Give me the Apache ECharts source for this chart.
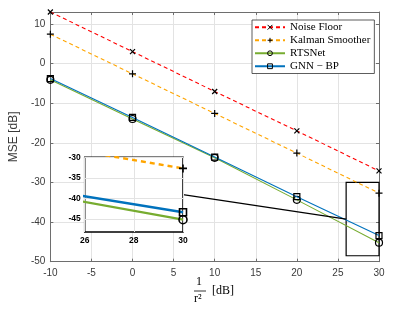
<!DOCTYPE html>
<html>
<head>
<meta charset="utf-8">
<script src="https://cdn.jsdelivr.net/npm/echarts@6/dist/echarts.min.js"></script>
<style>html,body{margin:0;padding:0;background:#fff}#c{width:416px;height:310px}</style>
</head>
<body>
<div id="c"></div>
<script>
// ---- data ----
var snr = [-10, 0, 10, 20, 30];
var noiseFloor = [13, 3, -7.05, -17, -27.1];
var kalman = [7.4, -2.6, -12.6, -22.6, -32.7];
var rtsnet = [-4.1, -14.0, -23.8, -34.4, -45.2];
var gnnbp = [-3.8, -13.6, -23.6, -33.6, -43.4];
var seriesNames = ['Noise Floor', 'Kalman Smoother', 'RTSNet', 'GNN \u2212 BP'];
var xTicks = [-10, -5, 0, 5, 10, 15, 20, 25, 30];
var yTicks = [-50, -40, -30, -20, -10, 0, 10];
var insetXTicks = [26, 28, 30];
var insetYTicks = [-45, -40, -35, -30];
var zoomX = [26, 30];
var zoomY = [-48.5, -30];
var insetY = [-48.2, -30];

function pairs(ys) { return snr.map(function (x, i) { return [x, ys[i]]; }); }

var colors = ['#ff0000', '#ffa500', '#77ac30', '#0072bd'];
var dashes = [[4, 3], [4, 3], 'solid', 'solid'];
var symbols = ['path://M0,0L10,10M10,0L0,10', 'path://M5,0L5,10M0,5L10,5', 'circle', 'rect'];
var symSizes = [5, 7, 7, 6];
var values = [noiseFloor, kalman, rtsnet, gnnbp];

var chart = echarts.init(document.getElementById('c'), null, { renderer: 'canvas' });
var series = [];
for (var i = 0; i < 4; i++) {
  series.push({
    name: seriesNames[i], type: 'line', xAxisIndex: 0, yAxisIndex: 0,
    data: pairs(values[i]), symbol: symbols[i], symbolSize: symSizes[i],
    showAllSymbol: true, clip: true, z: 2 + i * 0.1,
    lineStyle: { color: colors[i], width: 1.1, type: dashes[i] },
    itemStyle: { color: 'rgba(0,0,0,0)', borderColor: '#000', borderWidth: 1.2 },
    emphasis: { disabled: true }, animation: false
  });
}
series[3].markArea = {
  silent: true,
  itemStyle: { color: 'rgba(0,0,0,0)', borderColor: '#000', borderWidth: 1.2 },
  data: [[{ coord: [zoomX[0], zoomY[0]] }, { coord: [zoomX[1], zoomY[1]] }]]
};
for (var j = 0; j < 4; j++) {
  series.push({
    name: seriesNames[j], type: 'line', xAxisIndex: 1, yAxisIndex: 1,
    data: pairs(values[j]), symbol: symbols[j], symbolSize: symSizes[j] + 1,
    showAllSymbol: true, clip: true, z: 6 + j * 0.1,
    lineStyle: { color: colors[j], width: 2.4, type: j < 2 ? [5, 4] : 'solid' },
    itemStyle: { color: 'rgba(0,0,0,0)', borderColor: '#000', borderWidth: 1.6 },
    emphasis: { disabled: true }, animation: false
  });
}

var axisGray = '#6e6e6e';
var gridGray = '#e3e3e3';
var tickFont = { fontFamily: 'Liberation Sans', fontSize: 10, color: '#3a3a3a' };

var option = {
  animation: false,
  grid: [
    { left: 50, top: 12, right: 37, bottom: 48.3, show: false },
    { left: 84.7, top: 157.3, width: 98.3, height: 74.7, show: true, z: 4,
      backgroundColor: '#fff', borderColor: '#000', borderWidth: 1.5 }
  ],
  xAxis: [
    { type: 'value', gridIndex: 0, min: -10, max: 30, interval: 5, position: 'bottom',
      axisLine: { show: true, onZero: false, lineStyle: { color: axisGray, width: 1 } },
      axisTick: { show: true, inside: true, length: 3, lineStyle: { color: axisGray } },
      axisLabel: Object.assign({ margin: 7 }, tickFont),
      splitLine: { show: true, lineStyle: { color: gridGray, width: 1 } } },
    { type: 'value', gridIndex: 1, min: zoomX[0], max: zoomX[1], z: 5,
      axisLine: { show: false, onZero: false },
      axisTick: { show: false, customValues: insetXTicks },
      axisLabel: { customValues: insetXTicks, fontFamily: 'Liberation Sans', fontSize: 8.5, fontWeight: 'bold', color: '#000', margin: 4 },
      splitLine: { show: true, lineStyle: { color: gridGray, width: 1 } } },
    { type: 'value', gridIndex: 0, min: -10, max: 30, interval: 5, position: 'top',
      axisLine: { show: true, onZero: false, lineStyle: { color: axisGray, width: 1 } },
      axisTick: { show: true, inside: true, length: 3, lineStyle: { color: axisGray } },
      axisLabel: { show: false }, splitLine: { show: false } }
  ],
  yAxis: [
    { type: 'value', gridIndex: 0, min: -50, max: 13, interval: 10, position: 'left',
      name: 'MSE [dB]', nameLocation: 'middle', nameGap: 26,
      nameTextStyle: { fontFamily: 'Liberation Sans', fontSize: 12, color: '#3a3a3a' },
      axisLine: { show: true, onZero: false, lineStyle: { color: axisGray, width: 1 } },
      axisTick: { show: true, inside: true, length: 3, lineStyle: { color: axisGray } },
      axisLabel: Object.assign({ margin: 5, showMaxLabel: false }, tickFont),
      splitLine: { show: true, lineStyle: { color: gridGray, width: 1 } } },
    { type: 'value', gridIndex: 1, min: insetY[0], max: insetY[1], z: 5,
      axisLine: { show: false, onZero: false },
      axisTick: { show: false, customValues: insetYTicks },
      axisLabel: { customValues: insetYTicks, fontFamily: 'Liberation Sans', fontSize: 8.5, fontWeight: 'bold', color: '#000', margin: 4 },
      splitLine: { show: true, lineStyle: { color: gridGray, width: 1 } } },
    { type: 'value', gridIndex: 0, min: -50, max: 13, interval: 10, position: 'right',
      axisLine: { show: true, onZero: false, lineStyle: { color: axisGray, width: 1 } },
      axisTick: { show: true, inside: true, length: 3, lineStyle: { color: axisGray } },
      axisLabel: { show: false }, splitLine: { show: false } }
  ],
  legend: {
    data: seriesNames, orient: 'vertical', left: 252, top: 20,
    backgroundColor: '#fff', borderColor: '#333', borderWidth: 0.8,
    padding: [1, 4, 1, 2], itemGap: 0.5, itemWidth: 30, itemHeight: 6,
    itemStyle: { borderWidth: 1 },
    textStyle: { fontFamily: 'Liberation Serif', fontSize: 11, color: '#000', lineHeight: 12.5 },
    selectedMode: false
  },
  series: series,
  graphic: [
    { type: 'text', left: 196, top: 276, style: { text: '1', font: '12px "Liberation Serif"', fill: '#000' } },
    { type: 'line', shape: { x1: 194, y1: 291, x2: 206, y2: 291 }, style: { stroke: '#000', lineWidth: 0.8 } },
    { type: 'text', left: 194, top: 293, style: { text: 'r\u00b2', font: '12px "Liberation Serif"', fill: '#000' } },
    { type: 'text', left: 212, top: 285, style: { text: '[dB]', font: '12px "Liberation Serif"', fill: '#000' } }
  ]
};
chart.setOption(option);

// connector between inset and zoom box
var pA = chart.convertToPixel({ xAxisIndex: 1, yAxisIndex: 1 }, [zoomX[1], (insetY[0] + insetY[1]) / 2]);
var pB = chart.convertToPixel({ xAxisIndex: 0, yAxisIndex: 0 }, [zoomX[0], (zoomY[0] + zoomY[1]) / 2]);
option.graphic.push({ type: 'line', z: 3, shape: { x1: pA[0], y1: pA[1], x2: pB[0], y2: pB[1] }, style: { stroke: '#000', lineWidth: 1.2 } });
chart.setOption({ graphic: option.graphic });
</script>
</body>
</html>
